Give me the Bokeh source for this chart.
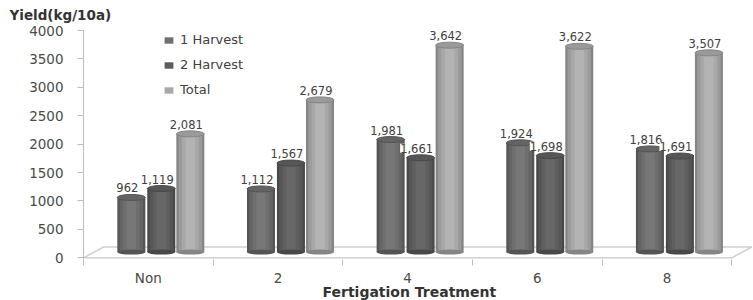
from bokeh.plotting import figure
from bokeh.models import Range1d, FixedTicker, Legend, LegendItem, ColumnDataSource, Title
from bokeh.core.properties import value
from bokeh.embed import file_html
from bokeh.resources import INLINE

# ---- data ----
categories = ["Non", "2", "4", "6", "8"]
harvest1 = [962, 1112, 1981, 1924, 1816]
harvest2 = [1119, 1567, 1661, 1698, 1691]
total = [2081, 2679, 3642, 3622, 3507]
series_names = ["1 Harvest", "2 Harvest", "Total"]
y_ticks = [0, 500, 1000, 1500, 2000, 2500, 3000, 3500, 4000]
y_title = "Yield(kg/10a)"
x_title = "Fertigation Treatment"

# ---- style ----
FONT = "DejaVu Sans"
LIFT = 100          # 3D depth: bars stand a little behind the front edge
BAR_W = 0.216
OFFSETS = [-0.131, 0.100, 0.324]
DEPTH_DX, DEPTH_DY = 0.155, 190
SHADES = [
    [(1.0, "#545454"), (0.84, "#646464"), (0.6, "#6e6e6e"), (0.34, "#777777")],
    [(1.0, "#484848"), (0.84, "#565656"), (0.6, "#5f5f5f"), (0.34, "#676767")],
    [(1.0, "#858585"), (0.84, "#9a9a9a"), (0.6, "#a8a8a8"), (0.34, "#b3b3b3")],
]
LEGEND_COLORS = ["#707070", "#5c5c5c", "#a8a8a8"]

n = len(categories)
p = figure(width=753, height=300, output_backend="svg", toolbar_location=None,
           x_range=Range1d(0, 5.16), y_range=Range1d(-30, 4000),
           min_border_left=83, min_border_right=1, min_border_top=30, min_border_bottom=41)
p.background_fill_color = "white"
p.border_fill_color = "white"
p.outline_line_color = None
p.grid.visible = False

# floor (3D base)
fx = [0, n, n + DEPTH_DX, DEPTH_DX, 0]
fy = [0, 0, DEPTH_DY, DEPTH_DY, 0]
p.line(fx, fy, line_color="#cfcfcf", line_width=1.5)

series = [harvest1, harvest2, total]
legend_items = []
for s, vals in enumerate(series):
    xs = [i + 0.5 + OFFSETS[s] for i in range(n)]
    tops = [v + LIFT for v in vals]
    src = ColumnDataSource(dict(x=xs, top=tops, bottom=[LIFT] * n,
                                label=[f"{v:,}" for v in vals]))
    for k, (frac, col) in enumerate(SHADES[s]):
        p.vbar(x="x", top="top", bottom="bottom", width=BAR_W * frac, source=src,
               fill_color=col, line_color=None)
    # rounded top / bottom caps
    p.ellipse(x="x", y="top", width=BAR_W, height=6, height_units="screen", source=src,
              fill_color=SHADES[s][1][1], line_color=SHADES[s][0][1], line_width=1)
    p.ellipse(x="x", y="bottom", width=BAR_W, height=5, height_units="screen", source=src,
              fill_color=SHADES[s][0][1], line_color=None)
    # legend swatch (kept outside the visible ranges)
    leg_r = p.vbar(x=[-10], top=[-10], width=1, fill_color=LEGEND_COLORS[s], line_color=None)
    legend_items.append(LegendItem(label=series_names[s], renderers=[leg_r]))
    p.text(x="x", y="top", text="label", source=src, x_offset=-4, y_offset=-5,
           text_align="center", text_baseline="bottom", text_font=value(FONT),
           text_font_size="11.5px", text_color="#404040",
           background_fill_color="white")

legend = Legend(items=legend_items, location=(80, 162), orientation="vertical",
                glyph_width=11, glyph_height=8, label_height=14, spacing=10,
                label_standoff=6, padding=0, margin=0,
                background_fill_alpha=0, border_line_color=None,
                label_text_font=FONT, label_text_font_size="13px",
                label_text_color="#404040")
p.add_layout(legend, "center")

# y axis
ya = p.yaxis[0]
ya.ticker = FixedTicker(ticks=y_ticks)
ya.axis_line_color = "#bdbdbd"
ya.major_tick_line_color = "#bdbdbd"
ya.major_tick_out = 6
ya.major_tick_in = 0
ya.minor_tick_line_color = None
ya.major_label_standoff = 14
ya.major_label_text_font = FONT
ya.major_label_text_font_size = "13.5px"
ya.major_label_text_color = "#4a4a4a"

# x axis
xa = p.xaxis[0]
xa.ticker = FixedTicker(ticks=[i + 0.5 for i in range(n)], minor_ticks=list(range(n + 1)))
xa.major_label_overrides = {i + 0.5: c for i, c in enumerate(categories)}
xa.axis_line_color = None
xa.major_tick_line_color = None
xa.major_tick_out = 0
xa.minor_tick_line_color = "#bdbdbd"
xa.minor_tick_out = 6
xa.minor_tick_in = 0
xa.major_label_standoff = 4
xa.major_label_text_font = FONT
xa.major_label_text_font_size = "13.5px"
xa.major_label_text_color = "#4a4a4a"

p.add_layout(Title(text=y_title, align="left", offset=-74, standoff=12,
                   vertical_align="top",
                   text_font=FONT, text_font_size="13.5px", text_font_style="bold",
                   text_color="#333333"), "above")
p.add_layout(Title(text=x_title, align="left", offset=239, standoff=-10,
                   vertical_align="top",
                   text_font=FONT, text_font_size="14px", text_font_style="bold",
                   text_color="#333333"), "below")

open("out.html", "w").write(file_html(p, INLINE))
